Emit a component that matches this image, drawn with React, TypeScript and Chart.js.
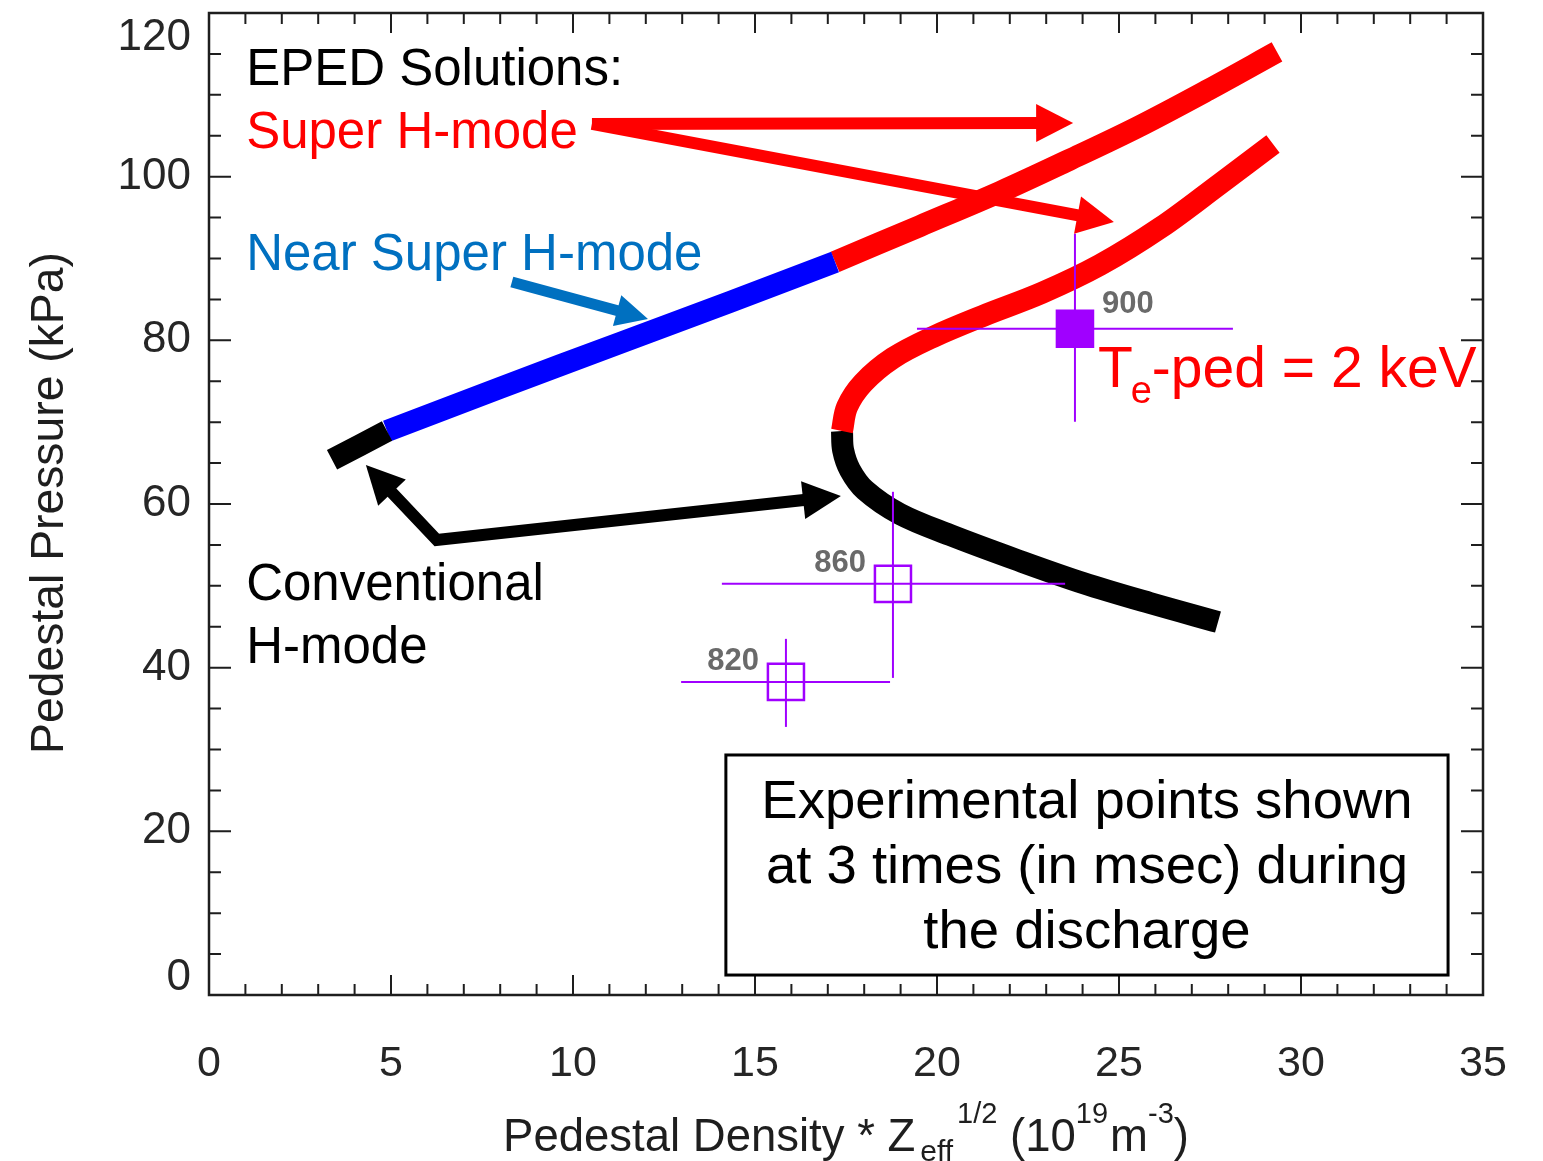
import { useEffect, useRef } from "react";
import { Chart, registerables } from "chart.js";

Chart.register(...registerables);

const FONT = '"Liberation Sans", Arial, Helvetica, sans-serif';
const PURPLE = "#a000ff";
const RED = "#ff0000";

// EPED solutions, upper branch: pedestal density * Zeff^1/2 (x) vs pedestal pressure (y)
const upperConvX = [3.38, 4.89];
const upperConvY = [65.4, 68.92];
const upperNearX = [4.89, 7.99, 11.29, 14.31, 17.2];
const upperNearY = [68.92, 74.18, 79.68, 84.69, 89.58];
const upperSuperX = [17.2, 19.53, 21.73, 23.63, 25.52, 27.45, 29.34];
const upperSuperY = [89.58, 93.97, 98.13, 102.04, 106.07, 110.6, 115.24];

// EPED solutions, lower C-shaped branch (Te-ped = 2 keV)
const lowerSuperX = [17.39, 17.53, 17.97, 18.79, 19.89, 21.26, 22.88, 24.48, 26.13, 27.77, 29.23];
const lowerSuperY = [68.92, 71.86, 74.79, 77.84, 80.41, 82.98, 85.79, 89.21, 93.73, 99.11, 104.0];
const lowerConvX = [17.39, 17.42, 17.61, 18.02, 18.98, 20.36, 22.2, 24.01, 25.85, 27.72];
const lowerConvY = [68.92, 66.6, 64.16, 61.71, 58.78, 56.21, 53.16, 50.35, 47.9, 45.58];

// Experimental points (time in msec) with error bars
const expTimes = ["820", "860", "900"];
const expX = [15.85, 18.79, 23.79];
const expY = [38.26, 50.24, 81.42];
const expXLow = [12.97, 14.09, 19.45];
const expXHigh = [18.71, 23.52, 28.13];
const expYLow = [32.76, 38.75, 70.05];
const expYHigh = [43.52, 61.49, 93.03];
const expFilled = [false, false, true];

// Axis ticks
const xTickValues = [0, 5, 10, 15, 20, 25, 30, 35];
const yTickValues = [0, 20, 40, 60, 80, 100, 120];

// Arrow annotations (data units)
const superArrowFrom: [number, number] = [10.52, 106.44];
const superArrowTips: [number, number][] = [
  [23.74, 106.56],
  [24.86, 94.46],
];
const nearArrow: [number, number][] = [
  [8.32, 87.13],
  [12.06, 82.61],
];
const convArrow: [number, number][] = [
  [4.31, 64.77],
  [6.26, 55.6],
  [17.36, 60.98],
];

// Text notes (left edge x, baseline y in data units)
const notes = [
  { text: "EPED Solutions:", x: 1.02, y: 111.2, color: "#000000" },
  { text: "Super H-mode", x: 1.02, y: 103.5, color: RED },
  { text: "Near Super H-mode", x: 1.02, y: 88.6, color: "#0070c0" },
  { text: "Conventional", x: 1.02, y: 48.27, color: "#000000" },
  { text: "H-mode", x: 1.02, y: 40.57, color: "#000000" },
];
const teNote = { x: 24.42, y: 74.3 };

const boxX = [14.2, 34.04];
const boxY = [2.44, 29.33];
const boxLines = ["Experimental points shown", "at 3 times (in msec) during", "the discharge"];

const pts = (xs: number[], ys: number[]) => xs.map((x, i) => ({ x, y: ys[i] }));

function curve(xs: number[], ys: number[], color: string) {
  return {
    type: "line" as const,
    data: pts(xs, ys),
    borderColor: color,
    backgroundColor: color,
    borderWidth: 22,
    borderCapStyle: "butt" as const,
    borderJoinStyle: "round" as const,
    tension: 0.35,
    pointRadius: 0,
    fill: false,
    order: 3,
  };
}

function seg(x0: number, y0: number, x1: number, y1: number) {
  return {
    type: "line" as const,
    data: [
      { x: x0, y: y0 },
      { x: x1, y: y1 },
    ],
    borderColor: PURPLE,
    borderWidth: 2,
    borderCapStyle: "butt" as const,
    tension: 0,
    pointRadius: 0,
    fill: false,
    order: 2,
  };
}

function arrowHead(ctx: CanvasRenderingContext2D, tip: number[], from: number[], len: number, half: number) {
  const dx = tip[0] - from[0];
  const dy = tip[1] - from[1];
  const d = Math.hypot(dx, dy);
  const ux = dx / d;
  const uy = dy / d;
  const bx = tip[0] - ux * len;
  const by = tip[1] - uy * len;
  ctx.beginPath();
  ctx.moveTo(tip[0], tip[1]);
  ctx.lineTo(bx - uy * half, by + ux * half);
  ctx.lineTo(bx + uy * half, by - ux * half);
  ctx.closePath();
  ctx.fill();
}

function drawArrow(
  ctx: CanvasRenderingContext2D,
  p: number[][],
  color: string,
  width: number,
  len: number,
  half: number,
  headStart: boolean,
  headEnd: boolean
) {
  const q = p.map((v) => [v[0], v[1]]);
  const pull = (a: number[], b: number[]) => {
    const dx = a[0] - b[0];
    const dy = a[1] - b[1];
    const d = Math.hypot(dx, dy);
    return [a[0] - (dx / d) * len * 0.8, a[1] - (dy / d) * len * 0.8];
  };
  if (headEnd) q[q.length - 1] = pull(p[p.length - 1], p[p.length - 2]);
  if (headStart) q[0] = pull(p[0], p[1]);
  ctx.save();
  ctx.strokeStyle = color;
  ctx.fillStyle = color;
  ctx.lineWidth = width;
  ctx.lineCap = "butt";
  ctx.lineJoin = "miter";
  ctx.beginPath();
  q.forEach((v, i) => (i === 0 ? ctx.moveTo(v[0], v[1]) : ctx.lineTo(v[0], v[1])));
  ctx.stroke();
  if (headEnd) arrowHead(ctx, p[p.length - 1], p[p.length - 2], len, half);
  if (headStart) arrowHead(ctx, p[0], p[1], len, half);
  ctx.restore();
}

type Run = { t: string; size: number; dy: number; gap?: number };

function drawRuns(ctx: CanvasRenderingContext2D, runs: Run[], cx: number, baseline: number) {
  let total = 0;
  runs.forEach((r) => {
    ctx.font = `${r.size}px ${FONT}`;
    total += (r.gap || 0) + ctx.measureText(r.t).width;
  });
  let x = cx - total / 2;
  ctx.textAlign = "left";
  ctx.textBaseline = "alphabetic";
  runs.forEach((r) => {
    ctx.font = `${r.size}px ${FONT}`;
    x += r.gap || 0;
    ctx.fillText(r.t, x, baseline + r.dy);
    x += ctx.measureText(r.t).width;
  });
}

const axesPlugin = {
  id: "idlAxes",
  afterDatasetsDraw(chart: Chart) {
    const ctx = chart.ctx;
    const a = chart.chartArea;
    const xs = chart.scales.x;
    const ys = chart.scales.y;
    ctx.save();

    // frame
    ctx.strokeStyle = "#1e1e1e";
    ctx.lineWidth = 2.5;
    ctx.strokeRect(a.left, a.top, a.right - a.left, a.bottom - a.top);

    // inward ticks on all four sides
    ctx.lineWidth = 2;
    ctx.beginPath();
    for (let v = 0; v <= 35; v += 1) {
      const px = xs.getPixelForValue(v);
      const len = v % 5 === 0 ? 20 : 11;
      ctx.moveTo(px, a.bottom);
      ctx.lineTo(px, a.bottom - len);
      ctx.moveTo(px, a.top);
      ctx.lineTo(px, a.top + len);
    }
    for (let v = 0; v <= 120; v += 5) {
      const py = ys.getPixelForValue(v);
      const len = v % 20 === 0 ? 22 : 12;
      ctx.moveTo(a.left, py);
      ctx.lineTo(a.left + len, py);
      ctx.moveTo(a.right, py);
      ctx.lineTo(a.right - len, py);
    }
    ctx.stroke();

    // tick labels
    ctx.filter = "blur(0.6px)";
    ctx.fillStyle = "#262626";
    ctx.font = `43px ${FONT}`;
    ctx.textAlign = "center";
    ctx.textBaseline = "middle";
    xTickValues.forEach((v) => ctx.fillText(String(v), xs.getPixelForValue(v), 1064));
    ctx.font = `44px ${FONT}`;
    ctx.textAlign = "right";
    yTickValues.forEach((v) => {
      const py = Math.min(Math.max(ys.getPixelForValue(v), a.top + 25), a.bottom - 17);
      ctx.fillText(String(v), 191, py);
    });

    // axis titles
    ctx.fillStyle = "#1e1e1e";
    drawRuns(
      ctx,
      [
        { t: "Pedestal Density * Z", size: 45.5, dy: 0 },
        { t: "eff", size: 30, dy: 10, gap: 5 },
        { t: "1/2", size: 29, dy: -28, gap: 4 },
        { t: " (10", size: 45.5, dy: 0 },
        { t: "19", size: 29, dy: -28 },
        { t: "m", size: 45.5, dy: 0, gap: 2 },
        { t: "-3", size: 29, dy: -28 },
        { t: ")", size: 45.5, dy: 0 },
      ],
      846,
      1151
    );
    ctx.save();
    ctx.translate(63, 503);
    ctx.rotate(-Math.PI / 2);
    ctx.font = `46.3px ${FONT}`;
    ctx.textAlign = "center";
    ctx.textBaseline = "alphabetic";
    ctx.fillText("Pedestal Pressure (kPa)", 0, 0);
    ctx.restore();

    // time labels next to experimental points
    ctx.filter = "blur(0.7px)";
    ctx.fillStyle = "#6a6a6a";
    ctx.font = `bold 31px ${FONT}`;
    ctx.textBaseline = "middle";
    expTimes.forEach((t, i) => {
      const px = xs.getPixelForValue(expX[i]);
      const py = ys.getPixelForValue(expY[i]);
      if (i === expTimes.length - 1) {
        ctx.textAlign = "left";
        ctx.fillText(t, px + 27, py - 24);
      } else {
        ctx.textAlign = "right";
        ctx.fillText(t, px - 27, py - 20);
      }
    });
    ctx.filter = "none";
    ctx.restore();
  },
};

const notesPlugin = {
  id: "notes",
  afterDraw(chart: Chart) {
    const ctx = chart.ctx;
    const xs = chart.scales.x;
    const ys = chart.scales.y;
    const P = (v: number[]) => [xs.getPixelForValue(v[0]), ys.getPixelForValue(v[1])];
    ctx.save();

    // arrows
    superArrowTips.forEach((tip) => drawArrow(ctx, [P(superArrowFrom), P(tip)], RED, 12, 37, 19, false, true));
    drawArrow(ctx, nearArrow.map(P), "#0070c0", 11, 32, 16, false, true);
    drawArrow(ctx, convArrow.map(P), "#000000", 12, 38, 19, true, true);

    // labels
    ctx.textAlign = "left";
    ctx.textBaseline = "alphabetic";
    ctx.font = `51px ${FONT}`;
    notes.forEach((n) => {
      ctx.fillStyle = n.color;
      ctx.fillText(n.text, xs.getPixelForValue(n.x), ys.getPixelForValue(n.y));
    });

    // Te-ped label with subscript
    ctx.fillStyle = RED;
    let tx = xs.getPixelForValue(teNote.x);
    const ty = ys.getPixelForValue(teNote.y);
    ctx.font = `57px ${FONT}`;
    ctx.fillText("T", tx, ty);
    tx += ctx.measureText("T").width - 2;
    ctx.font = `38px ${FONT}`;
    ctx.fillText("e", tx, ty + 16);
    tx += ctx.measureText("e").width;
    ctx.font = `57px ${FONT}`;
    ctx.fillText("-ped = 2 keV", tx, ty);

    // text box
    const bx0 = xs.getPixelForValue(boxX[0]);
    const bx1 = xs.getPixelForValue(boxX[1]);
    const by0 = ys.getPixelForValue(boxY[1]);
    const by1 = ys.getPixelForValue(boxY[0]);
    ctx.fillStyle = "#ffffff";
    ctx.fillRect(bx0, by0, bx1 - bx0, by1 - by0);
    ctx.strokeStyle = "#000000";
    ctx.lineWidth = 3;
    ctx.strokeRect(bx0, by0, bx1 - bx0, by1 - by0);
    ctx.fillStyle = "#000000";
    ctx.font = `54.5px ${FONT}`;
    ctx.textAlign = "center";
    boxLines.forEach((line, i) => ctx.fillText(line, (bx0 + bx1) / 2, by0 + 63 + i * 65));
    ctx.restore();
  },
};

export default function App() {
  const ref = useRef<HTMLCanvasElement | null>(null);

  useEffect(() => {
    document.body.style.margin = "0";
    const canvas = ref.current;
    if (!canvas) return;

    const errorBars = expX.flatMap((x, i) => [
      seg(expXLow[i], expY[i], expXHigh[i], expY[i]),
      seg(x, expYLow[i], x, expYHigh[i]),
    ]);

    const chart = new Chart(canvas, {
      type: "line",
      data: {
        datasets: [
          {
            type: "line",
            data: pts(expX, expY),
            showLine: false,
            pointStyle: "rect",
            pointRadius: 25.5,
            pointBorderWidth: 2.5,
            pointBorderColor: PURPLE,
            pointBackgroundColor: expFilled.map((f) => (f ? PURPLE : "rgba(0,0,0,0)")),
            order: 1,
          },
          ...errorBars,
          curve(upperConvX, upperConvY, "#000000"),
          curve(upperNearX, upperNearY, "#0000ff"),
          curve(upperSuperX, upperSuperY, RED),
          curve(lowerSuperX, lowerSuperY, RED),
          curve(lowerConvX, lowerConvY, "#000000"),
        ] as any,
      },
      options: {
        responsive: false,
        animation: false,
        events: [],
        layout: { autoPadding: false, padding: { left: 209, right: 60, top: 13, bottom: 166 } },
        plugins: { legend: { display: false }, tooltip: { enabled: false } },
        scales: {
          x: { type: "linear", min: 0, max: 35, display: false },
          y: { type: "linear", min: 0, max: 120, display: false },
        },
      },
      plugins: [axesPlugin, notesPlugin],
    });
    return () => chart.destroy();
  }, []);

  return (
    <div style={{ width: 1543, height: 1161, background: "#ffffff" }}>
      <canvas ref={ref} width={1543} height={1161} style={{ display: "block" }} />
    </div>
  );
}
